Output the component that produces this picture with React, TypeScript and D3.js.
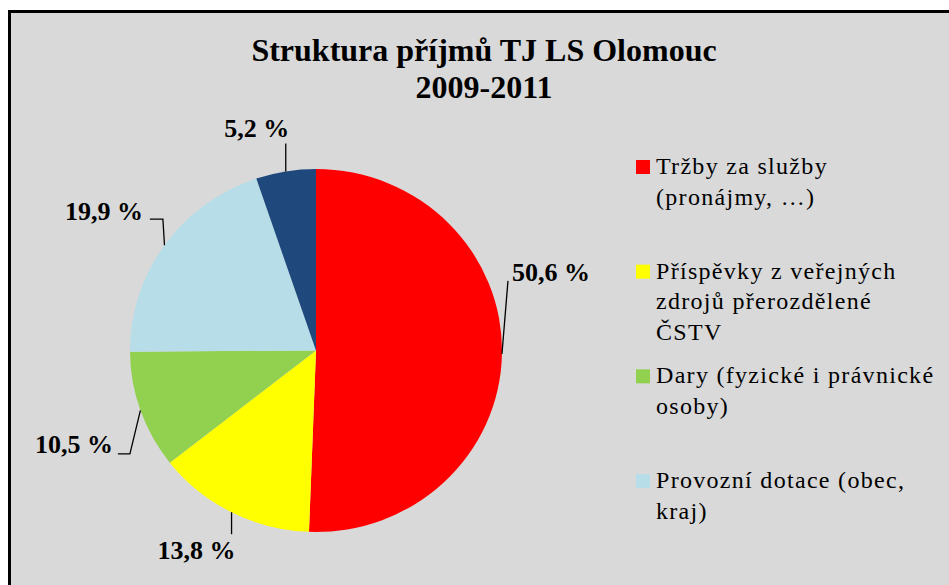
import * as d3 from "d3";

// data
const categories = [
  ["Tržby za služby", "(pronájmy, …)"],
  ["Příspěvky z veřejných", "zdrojů přerozdělené", "ČSTV"],
  ["Dary (fyzické i právnické", "osoby)"],
  ["Provozní dotace (obec,", "kraj)"],
  ["Ostatní"],
];
const values = [50.6, 13.8, 10.5, 19.9, 5.2];
const colors = ["#ff0000", "#ffff00", "#92d050", "#b7dee8", "#1f497d"];
const titleLines = ["Struktura příjmů TJ LS Olomouc", "2009-2011"];
// the picture is cropped: only the first four legend entries fit
const legendShown = 4;

// leader line layout (offsets from the slice edge point), like the hand placed Excel labels
const leaders = [
  { pts: [[6, -73]], tx: 4, ty: 0, anchor: "start" },
  { pts: [[0, 22]], tx: -35, ty: 25, anchor: "middle" },
  { pts: [[-10.5, 43.6], [-22.5, 43.6]], tx: -5, ty: -1, anchor: "end" },
  { pts: [[-1.6, -26], [-14.6, -26]], tx: -7, ty: 1, anchor: "end" },
  { pts: [[0, -28]], tx: 3.5, ty: -6, anchor: "end" },
];

const W = 949;
const H = 585;
const cx = 316;
const cy = 350.5;
const ry = 181.5;
const sx = 186 / 181.5;
const serif = "'Liberation Serif', 'Times New Roman', serif";

const fmt = (v: number) => d3.format(".1f")(v).replace(".", ",") + " %";

export default function App() {
  const pie = d3.pie<number>().sort(null).value((d) => d)(values);
  const arc = d3.arc<d3.PieArcDatum<number>>().innerRadius(0).outerRadius(ry);

  const legendY = d3.scaleLinear().domain([0, 3]).range([174, 488]);

  return (
    <svg
      width={W}
      height={H}
      viewBox={`0 0 ${W} ${H}`}
      style={{ position: "absolute", left: 0, top: 0, display: "block" }}
    >
      <rect x={0} y={0} width={W} height={H} fill="#ffffff" />
      <rect x={9.5} y={11.5} width={W + 20} height={H + 20} fill="#d9d9d9" stroke="#000" strokeWidth={3} />

      <g fontFamily={serif} fontWeight="bold" fontSize={32} textAnchor="middle">
        {titleLines.map((t, i) => (
          <text key={i} x={484} y={60.7 + i * 37.3} fill="#000">
            {t}
          </text>
        ))}
      </g>

      <g transform={`translate(${cx},${cy}) scale(${sx},1)`}>
        {pie.map((d, i) => (
          <path key={i} d={arc(d) || ""} fill={colors[i]} />
        ))}
      </g>

      <g fontFamily={serif} fontWeight="bold" fontSize={26}>
        {pie.map((d, i) => {
          const a = (d.startAngle + d.endAngle) / 2;
          const ex = cx + Math.sin(a) * ry * sx;
          const ey = cy - Math.cos(a) * ry;
          const L = leaders[i];
          const pts = [[ex, ey], ...L.pts.map(([dx, dy]) => [ex + dx, ey + dy])];
          const end = pts[pts.length - 1];
          return (
            <g key={i}>
              <path d={d3.line()(pts as [number, number][]) || ""} fill="none" stroke="#000" strokeWidth={1.3} />
              <text x={end[0] + L.tx} y={end[1] + L.ty} textAnchor={L.anchor} fill="#000">
                {fmt(values[i])}
              </text>
            </g>
          );
        })}
      </g>

      <g fontFamily={serif} fontSize={24} letterSpacing={1.3}>
        {categories.slice(0, legendShown).map((lines, i) => {
          const y = legendY(i);
          return (
            <g key={i}>
              <rect x={636} y={y - 14} width={14} height={14} fill={colors[i]} />
              {lines.map((t, j) => (
                <text key={j} x={656} y={y + j * 30.5} fill="#000">
                  {t}
                </text>
              ))}
            </g>
          );
        })}
      </g>
    </svg>
  );
}
